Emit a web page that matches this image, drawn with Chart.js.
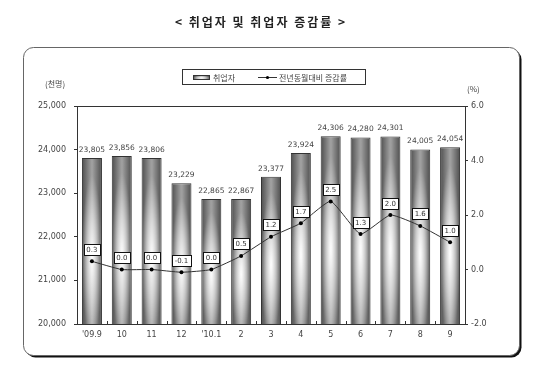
<!DOCTYPE html>
<html>
<head>
<meta charset="utf-8">
<script src="https://cdn.jsdelivr.net/npm/chart.js@4.4.0/dist/chart.umd.min.js"></script>
<style>
  html, body { margin: 0; padding: 0; background: #fff; }
  #wrap { width: 550px; height: 373px; position: relative; }
</style>
</head>
<body>
<div id="wrap"><canvas id="c" width="550" height="373"></canvas></div>
<script>
/* 데이터 */
const labels = ["'09.9", "10", "11", "12", "'10.1", "2", "3", "4", "5", "6", "7", "8", "9"];
const employed = [23805, 23856, 23806, 23229, 22865, 22867, 23377, 23924, 24306, 24280, 24301, 24005, 24054];
const rate = [0.3, 0.0, 0.0, -0.1, 0.0, 0.5, 1.2, 1.7, 2.5, 1.3, 2.0, 1.6, 1.0];
const leftRange = [20000, 25000, 1000];
const rightRange = [-2, 6, 2];

const titleText = "< 취업자 및 취업자 증감률 >";
const barName = "취업자";
const lineName = "전년동월대비 증감률";
const leftUnit = "(천명)";
const rightUnit = "(%)";

const KR = '"Noto Sans CJK KR", sans-serif';
const NUM = '"DejaVu Sans", sans-serif';
const BAR_PCT = 0.67;
const TXT = "#444";

/* 막대 그라데이션 (가장자리 어둡게, 가운데 밝게) */
function paintBar(g, w, h) {
    const lin = g.createLinearGradient(0, 0, w, 0);
    lin.addColorStop(0, "#4e4e4e");
    lin.addColorStop(0.5, "#a4a4a4");
    lin.addColorStop(1, "#4e4e4e");
    g.fillStyle = lin;
    g.fillRect(0, 0, w, h);

    const ry = h * 0.5, rx = w * 0.5;
    g.save();
    g.translate(w / 2, h * 0.6);
    g.scale(1, ry / rx);
    const rad = g.createRadialGradient(0, 0, 0, 0, 0, rx);
    rad.addColorStop(0, "rgba(255,255,255,1)");
    rad.addColorStop(0.5, "rgba(255,255,255,0.55)");
    rad.addColorStop(1, "rgba(255,255,255,0)");
    g.fillStyle = rad;
    g.fillRect(-rx, -rx, rx * 2, rx * 2);
    g.restore();
}

function barFill(ctx) {
    const chart = ctx.chart;
    if (ctx.type !== "data" || !chart.chartArea) return "#888";
    const xs = chart.scales.x, ys = chart.scales.y;
    const cx = xs.getPixelForValue(ctx.dataIndex);
    const w = Math.max(2, Math.round(xs.width / labels.length * BAR_PCT));
    const top = ys.getPixelForValue(ctx.raw);
    const bot = ys.getPixelForValue(ys.min);
    const h = Math.max(2, Math.round(bot - top));
    const off = document.createElement("canvas");
    off.width = w; off.height = h;
    paintBar(off.getContext("2d"), w, h);
    const p = chart.ctx.createPattern(off, "repeat");
    p.setTransform(new DOMMatrix([1, 0, 0, 1, cx - w / 2, top]));
    return p;
}

function roundRect(c, x, y, w, h, r) {
    c.beginPath();
    c.moveTo(x + r, y);
    c.arcTo(x + w, y, x + w, y + h, r);
    c.arcTo(x + w, y + h, x, y + h, r);
    c.arcTo(x, y + h, x, y, r);
    c.arcTo(x, y, x + w, y, r);
    c.closePath();
}

/* 배경, 제목, 범례 */
const framePlugin = {
    id: "frame",
    beforeDraw(chart) {
        const c = chart.ctx;
        c.save();
        c.fillStyle = "#fff";
        c.fillRect(0, 0, chart.width, chart.height);

        roundRect(c, 25.5, 49.5, 496, 308, 10);
        c.fillStyle = "#111";
        c.fill();
        roundRect(c, 23.5, 47.5, 496, 308, 10);
        c.fillStyle = "#fff";
        c.fill();
        c.strokeStyle = "#666";
        c.lineWidth = 1;
        c.stroke();

        c.fillStyle = "#222";
        c.font = "bold 12px " + KR;
        if ("letterSpacing" in c) c.letterSpacing = "2px";
        c.textAlign = "center";
        c.textBaseline = "middle";
        c.fillText(titleText, 261, 22);
        if ("letterSpacing" in c) c.letterSpacing = "0px";

        c.font = "8px " + KR;
        c.fillStyle = TXT;
        c.textAlign = "left";
        c.fillText(leftUnit, 45, 84);
        c.fillText(rightUnit, 467, 89);

        // 범례
        c.strokeStyle = "#333";
        c.strokeRect(182.5, 69.5, 183, 15);
        const sw = document.createElement("canvas");
        sw.width = 17; sw.height = 5;
        paintBar(sw.getContext("2d"), 17, 5);
        c.drawImage(sw, 193, 75);
        c.strokeRect(193.5, 75.5, 16, 4);
        c.fillStyle = TXT;
        c.fillText(barName, 213, 77.5);
        c.beginPath();
        c.moveTo(258, 77.5);
        c.lineTo(277, 77.5);
        c.stroke();
        c.beginPath();
        c.arc(267.5, 77.5, 1.6, 0, Math.PI * 2);
        c.fillStyle = "#000";
        c.fill();
        c.fillStyle = TXT;
        c.fillText(lineName, 279, 77.5);
        c.restore();
    },
    afterDatasetsDraw(chart) {
        const c = chart.ctx;
        const a = chart.chartArea;
        const xs = chart.scales.x;
        c.save();
        c.strokeStyle = "#333";
        c.lineWidth = 1;
        c.beginPath();
        c.moveTo(a.left, Math.round(a.top) + 0.5);
        c.lineTo(a.right, Math.round(a.top) + 0.5);
        // x축 안쪽 눈금
        for (let i = 1; i < labels.length; i++) {
            const x = Math.round((xs.getPixelForValue(i - 1) + xs.getPixelForValue(i)) / 2) + 0.5;
            c.moveTo(x, a.bottom);
            c.lineTo(x, a.bottom - 3);
        }
        c.stroke();

        // 막대 값
        c.textAlign = "center";
        c.textBaseline = "middle";
        c.font = "7.5px " + NUM;
        c.fillStyle = TXT;
        chart.getDatasetMeta(0).data.forEach((el, i) => {
            c.fillText(employed[i].toLocaleString("en-US"), el.x, el.y - 8);
        });

        // 증감률 상자
        c.font = "7px " + NUM;
        chart.getDatasetMeta(1).data.forEach((el, i) => {
            const t = rate[i].toFixed(1);
            const w = Math.round(c.measureText(t).width + 5);
            const h = 11;
            const x = Math.round(el.x - w / 2) + 0.5;
            const y = Math.round(el.y - 12 - h / 2) + 0.5;
            c.fillStyle = "#fff";
            c.fillRect(x, y, w, h);
            c.strokeStyle = "#111";
            c.strokeRect(x, y, w, h);
            c.fillStyle = "#333";
            c.fillText(t, el.x, y + h / 2 + 0.5);
        });
        c.restore();
    }
};

new Chart(document.getElementById("c"), {
    data: {
        labels: labels,
        datasets: [{
            type: "bar",
            label: barName,
            data: employed,
            yAxisID: "y",
            backgroundColor: barFill,
            borderColor: "#333",
            borderWidth: 1,
            categoryPercentage: 1,
            barPercentage: BAR_PCT,
            order: 2
        }, {
            type: "line",
            label: lineName,
            data: rate,
            yAxisID: "y1",
            borderColor: "#333",
            borderWidth: 1,
            tension: 0.15,
            pointRadius: 2,
            pointBackgroundColor: "#000",
            pointBorderWidth: 0,
            order: 1
        }]
    },
    options: {
        responsive: false,
        animation: false,
        events: [],
        layout: { padding: { left: 20, right: 30, top: 106, bottom: 29 } },
        plugins: {
            legend: { display: false },
            tooltip: { enabled: false },
            title: { display: false }
        },
        scales: {
            x: {
                offset: true,
                grid: { display: false, drawTicks: false },
                border: { color: "#333" },
                ticks: { color: TXT, font: { family: NUM, size: 8 }, padding: 6, maxRotation: 0 },
                afterFit(s) { s.height = 20; }
            },
            y: {
                position: "left",
                min: leftRange[0], max: leftRange[1],
                grid: { drawOnChartArea: false, tickLength: 3, color: "#333" },
                border: { color: "#333" },
                ticks: {
                    stepSize: leftRange[2], color: TXT, padding: 8,
                    font: { family: NUM, size: 8 },
                    callback: v => v.toLocaleString("en-US")
                },
                afterFit(s) { s.width = 57; }
            },
            y1: {
                position: "right",
                min: rightRange[0], max: rightRange[1],
                grid: { drawOnChartArea: false, tickLength: 3, color: "#333" },
                border: { color: "#333" },
                ticks: {
                    stepSize: rightRange[2], color: TXT, padding: 3,
                    font: { family: NUM, size: 8 },
                    callback: v => v.toFixed(1)
                },
                afterFit(s) { s.width = 55; }
            }
        }
    },
    plugins: [framePlugin]
});
</script>
</body>
</html>
